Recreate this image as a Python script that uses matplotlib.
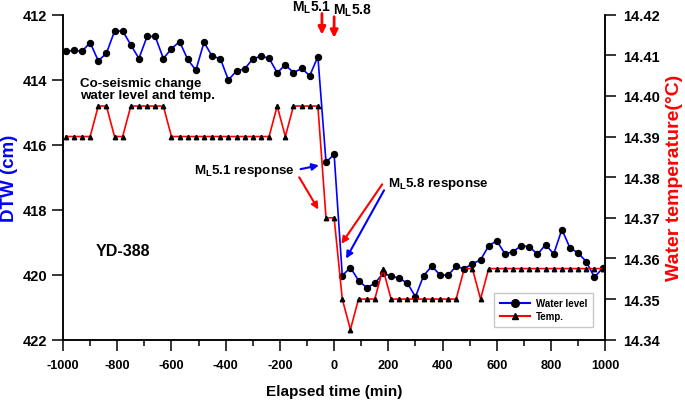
import matplotlib
matplotlib.use("Agg")
import matplotlib.pyplot as plt
from matplotlib.lines import Line2D

plt.rcParams['font.family'] = ['Liberation Sans', 'DejaVu Sans']
plt.rcParams['font.weight'] = 'bold'
plt.rcParams['axes.unicode_minus'] = False
plt.rcParams['mathtext.fontset'] = 'custom'
plt.rcParams['mathtext.rm'] = 'Liberation Sans:bold'
plt.rcParams['mathtext.bf'] = 'Liberation Sans:bold'
plt.rcParams['mathtext.it'] = 'Liberation Sans:bold'
plt.rcParams['mathtext.default'] = 'bf'

# elapsed time (min), 30 min sampling
time_min = [-990, -960, -930, -900, -870, -840, -810, -780, -750, -720,
            -690, -660, -630, -600, -570, -540, -510, -480, -450, -420,
            -390, -360, -330, -300, -270, -240, -210, -180, -150, -120,
            -90, -60, -30, 0, 30, 60, 90, 120, 150, 180,
            210, 240, 270, 300, 330, 360, 390, 420, 450, 480,
            510, 540, 570, 600, 630, 660, 690, 720, 750, 780,
            810, 840, 870, 900, 930, 960, 990]

# depth to water (cm)
dtw = [413.13, 413.10, 413.13, 412.86, 413.42, 413.19, 412.51, 412.50, 412.93, 413.35,
       412.67, 412.67, 413.35, 413.05, 412.83, 413.38, 413.71, 412.85, 413.28, 413.35,
       414.01, 413.73, 413.67, 413.36, 413.28, 413.34, 413.79, 413.54, 413.79, 413.65,
       413.88, 413.29, 416.54, 416.30, 420.03, 419.78, 420.18, 420.40, 420.27, 419.96,
       420.04, 420.11, 420.26, 420.68, 420.03, 419.74, 420.00, 420.02, 419.74, 419.82,
       419.66, 419.55, 419.11, 418.96, 419.36, 419.29, 419.11, 419.14, 419.37, 419.08,
       419.36, 418.61, 419.18, 419.33, 419.60, 420.08, 419.80]

# water temperature (degC)
temp = [14.39, 14.39, 14.39, 14.39, 14.3975, 14.3975, 14.39, 14.39, 14.3975, 14.3975,
        14.3975, 14.3975, 14.3975, 14.39, 14.39, 14.39, 14.39, 14.39, 14.39, 14.39,
        14.39, 14.39, 14.39, 14.39, 14.39, 14.39, 14.3975, 14.39, 14.3975, 14.3975,
        14.3975, 14.3975, 14.37, 14.37, 14.35, 14.3425, 14.35, 14.35, 14.35, 14.3575,
        14.35, 14.35, 14.35, 14.35, 14.35, 14.35, 14.35, 14.35, 14.35, 14.3575,
        14.3575, 14.35, 14.3575, 14.3575, 14.3575, 14.3575, 14.3575, 14.3575, 14.3575, 14.3575,
        14.3575, 14.3575, 14.3575, 14.3575, 14.3575, 14.3575, 14.3575]

quake_times = [-45, 0]
quake_labels = ['M$_L$5.1', 'M$_L$5.8']

fig = plt.figure(figsize=(6.85, 4.02), dpi=100)
ax = fig.add_axes([0.092, 0.1525, 0.7916, 0.8086])
ax2 = ax.twinx()

ax.plot(time_min, dtw, color='blue', lw=1.2, marker='o', ms=4.3,
        mfc='black', mec='black', zorder=3)
ax2.plot(time_min, temp, color='red', lw=1.2, marker='^', ms=3.2,
         mfc='black', mec='black', zorder=3)

ax.set_xlim(-1000, 1000)
ax.set_ylim(422, 412)
ax2.set_ylim(14.34, 14.42)
ax.set_xticks(range(-1000, 1001, 200))
ax.set_xticks(range(-900, 1000, 200), minor=True)
ax.set_yticks(range(412, 423, 2))
ax2.set_yticks([14.34, 14.35, 14.36, 14.37, 14.38, 14.39, 14.40, 14.41, 14.42])
ax2.set_yticklabels(['%.2f' % v for v in ax2.get_yticks()])

for a in (ax, ax2):
    a.spines['top'].set_visible(False)
    for s in a.spines.values():
        s.set_linewidth(1.1)
ax.tick_params(axis='x', direction='out', length=8, width=1.1, labelsize=9.2, pad=6)
ax.tick_params(axis='x', which='minor', direction='out', length=4.5, width=1.1)
ax.tick_params(axis='y', direction='out', length=8, width=1.1, labelsize=10.5, pad=3.5)
ax2.tick_params(axis='y', direction='out', length=8, width=1.1, labelsize=10.5, pad=4.5)

ax.set_xlabel('Elapsed time (min)', fontsize=11, fontweight='bold', labelpad=9)
ax.set_ylabel('DTW (cm)', fontsize=13.5, fontweight='bold', color='blue', labelpad=3)
ax2.set_ylabel('Water temperature(\u00b0C)', fontsize=14, fontweight='bold',
               color='red', labelpad=5)

# earthquake markers
for t, dy in zip(quake_times, [0, 0.1]):
    ax.annotate('', xy=(t, 412.7 + dy), xytext=(t, 411.88 + dy),
                arrowprops=dict(arrowstyle='-|>', color='red', lw=2, mutation_scale=11),
                annotation_clip=False)
ax.text(-155, 411.76, quake_labels[0], fontsize=10, ha='left', va='center')
ax.text(-6, 411.86, quake_labels[1], fontsize=10, ha='left', va='center')

ax.text(-937, 414.3, 'Co-seismic change\nwater level and temp.', fontsize=9.6,
        ha='left', va='center', linespacing=1.0)
ax.text(-880, 419.25, 'YD-388', fontsize=11.5, ha='left', va='center')

# response arrows
ax.text(-333, 416.77, 'M$_L$5.1 response', fontsize=9.6, ha='center', va='center')
ax.annotate('', xy=(-46, 416.62), xytext=(-134, 416.77),
            arrowprops=dict(arrowstyle='-|>', color='blue', lw=1.5, mutation_scale=10))
ax.annotate('', xy=(-53, 418.07), xytext=(-134, 416.93),
            arrowprops=dict(arrowstyle='-|>', color='red', lw=1.5, mutation_scale=10))
ax.text(200, 417.17, 'M$_L$5.8 response', fontsize=9.6, ha='left', va='center')
ax.annotate('', xy=(39, 419.58), xytext=(189, 417.33),
            arrowprops=dict(arrowstyle='-|>', color='blue', lw=1.5, mutation_scale=10))
ax.annotate('', xy=(21, 419.12), xytext=(183, 417.15),
            arrowprops=dict(arrowstyle='-|>', color='red', lw=1.5, mutation_scale=10))

handles = [Line2D([], [], color='blue', lw=1.5, marker='o', ms=5.5, mfc='black', mec='black'),
           Line2D([], [], color='red', lw=1.5, marker='^', ms=4.5, mfc='black', mec='black')]
leg = ax2.legend(handles, ['Water level', 'Temp.'], loc='lower right',
                 bbox_to_anchor=(0.9865, 0.0237), fontsize=7, frameon=True,
                 fancybox=False, edgecolor='#c8c8c8', framealpha=1,
                 handlelength=3.1, borderpad=0.6, labelspacing=0.3, handletextpad=0.6)
leg.get_frame().set_linewidth(1.0)

fig.savefig('out.png', dpi=100)
